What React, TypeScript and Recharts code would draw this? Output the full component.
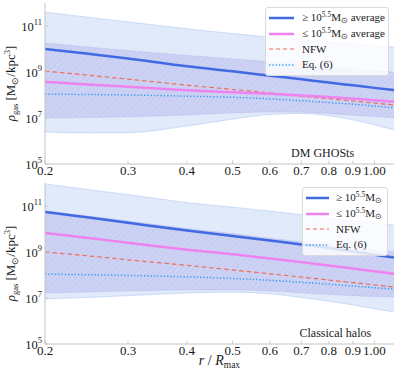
import React from 'react';
import { ComposedChart, Line, Area, XAxis, YAxis, Legend, ReferenceDot, Label } from 'recharts';

// radius r / R_max sample points
const radius = [0.2, 0.25, 0.3, 0.4, 0.5, 0.6, 0.7, 0.8, 0.9, 1.0, 1.1];
const xTicks = [0.2, 0.3, 0.4, 0.5, 0.6, 0.7, 0.8, 0.9, 1.0];
const xTickLabels = ['0.2', '0.3', '0.4', '0.5', '0.6', '0.7', '0.8', '0.9', '1.00'];
const yTicks = [1e5, 1e7, 1e9, 1e11];
const yTickExponents = ['5', '7', '9', '11'];

// log10(rho_gas) — DM GHOSts panel
const ghostHighLog = [10.0, 9.78, 9.59, 9.25, 9.03, 8.84, 8.68, 8.54, 8.42, 8.31, 8.22];
const ghostLowLog = [8.57, 8.45, 8.36, 8.21, 8.12, 8.05, 7.98, 7.91, 7.84, 7.77, 7.71];
const ghostNfwLog = [9.04, 8.85, 8.69, 8.43, 8.24, 8.09, 7.95, 7.84, 7.74, 7.65, 7.57];
const ghostEq6Log = [8.04, 8.02, 8.0, 7.95, 7.9, 7.83, 7.75, 7.67, 7.6, 7.52, 7.45];
const ghostOuterHiLog = [11.6, 11.37, 11.18, 10.88, 10.67, 10.52, 10.4, 10.3, 10.22, 10.15, 10.09];
const ghostOuterLoLog = [6.39, 6.35, 6.36, 6.65, 6.95, 7.15, 7.2, 7.1, 6.92, 6.7, 6.48];
const ghostInnerHiLog = [10.26, 10.08, 9.93, 9.72, 9.58, 9.45, 9.33, 9.22, 9.12, 9.05, 9.0];
const ghostInnerLoLog = [7.0, 7.02, 7.05, 7.13, 7.22, 7.26, 7.25, 7.2, 7.12, 7.06, 7.0];

// log10(rho_gas) — Classical halos panel
const classicHighLog = [10.74, 10.49, 10.27, 9.93, 9.7, 9.5, 9.33, 9.17, 9.02, 8.88, 8.76];
const classicLowLog = [9.83, 9.6, 9.4, 9.1, 8.9, 8.72, 8.56, 8.41, 8.28, 8.16, 8.05];
const classicNfwLog = [9.0, 8.82, 8.66, 8.42, 8.22, 8.05, 7.91, 7.78, 7.67, 7.57, 7.48];
const classicEq6Log = [8.04, 8.01, 7.98, 7.92, 7.85, 7.77, 7.68, 7.6, 7.52, 7.45, 7.39];
const classicOuterHiLog = [11.96, 11.7, 11.5, 11.15, 10.95, 10.78, 10.62, 10.48, 10.36, 10.26, 10.17];
const classicOuterLoLog = [6.96, 7.03, 7.1, 7.22, 7.25, 7.18, 7.02, 6.86, 6.7, 6.53, 6.39];
const classicInnerHiLog = [10.8, 10.55, 10.35, 10.02, 9.8, 9.6, 9.45, 9.32, 9.2, 9.1, 9.02];
const classicInnerLoLog = [7.22, 7.26, 7.3, 7.35, 7.35, 7.3, 7.22, 7.15, 7.1, 7.06, 7.04];

const ghostLabels = ['average', 'average'];
const classicLabels = ['', ''];

const SERIF = "'Liberation Serif', serif";
const TXT = '#1a1a1a';
const SPINE = '#c4c4c4';
const C_HIGH = '#4169E1';
const C_LOW = '#EE82EE';
const C_NFW = '#F26B55';
const C_EQ6 = '#3A9AEF';

const build = (hi: number[], lo: number[], nfw: number[], eq6: number[], oHi: number[], oLo: number[], iHi: number[], iLo: number[]) =>
  radius.map((r, i) => ({
    r,
    high: Math.pow(10, hi[i]),
    low: Math.pow(10, lo[i]),
    nfw: Math.pow(10, nfw[i]),
    eq6: Math.pow(10, eq6[i]),
    outer: [Math.pow(10, oLo[i]), Math.pow(10, oHi[i])],
    inner: [Math.pow(10, iLo[i]), Math.pow(10, iHi[i])],
  }));

const ghostData = build(ghostHighLog, ghostLowLog, ghostNfwLog, ghostEq6Log, ghostOuterHiLog, ghostOuterLoLog, ghostInnerHiLog, ghostInnerLoLog);
const classicData = build(classicHighLog, classicLowLog, classicNfwLog, classicEq6Log, classicOuterHiLog, classicOuterLoLog, classicInnerHiLog, classicInnerLoLog);

const textStyle: React.CSSProperties = { fontFamily: SERIF };

const XTickBottom = (props: any) => {
  const { x, y, payload } = props;
  const idx = xTicks.indexOf(payload.value);
  const label = idx >= 0 ? xTickLabels[idx] : String(payload.value);
  return (
    <g>
      <line x1={x} x2={x} y1={y} y2={y - 3.5} stroke={SPINE} strokeWidth={0.8} />
      <text x={x} y={y + 11} textAnchor="middle" fontSize={13} style={textStyle} fill={TXT}>
        {label}
      </text>
    </g>
  );
};

const XTickTop = (props: any) => {
  const { x, y } = props;
  return <line x1={x} x2={x} y1={y} y2={y + 3.5} stroke={SPINE} strokeWidth={0.8} />;
};

const YTickLeft = (props: any) => {
  const { x, y, payload } = props;
  const idx = yTicks.indexOf(payload.value);
  const exp = idx >= 0 ? yTickExponents[idx] : '';
  return (
    <g>
      <line x1={x} x2={x + 3.5} y1={y} y2={y} stroke={SPINE} strokeWidth={0.8} />
      <text x={x - 3} y={y + 5} textAnchor="end" fontSize={12.5} style={textStyle} fill={TXT}>
        10
        <tspan dy={-6} fontSize={8.5}>{exp}</tspan>
      </text>
    </g>
  );
};

const YTickRight = (props: any) => {
  const { x, y } = props;
  return <line x1={x} x2={x - 3.5} y1={y} y2={y} stroke={SPINE} strokeWidth={0.8} />;
};

const YAxisTitle = (props: any) => {
  const vb = props.viewBox || { x: 0, y: 0, width: 45, height: 161 };
  const cx = 15;
  const cy = vb.y + vb.height / 2;
  return (
    <text
      x={cx}
      y={cy}
      transform={`rotate(-90, ${cx}, ${cy})`}
      textAnchor="middle"
      fontSize={13}
      style={textStyle}
      fill={TXT}
    >
      <tspan fontStyle="italic">ρ</tspan>
      <tspan fontSize={8.5} dy={3}>gas</tspan>
      <tspan dy={-3}> [M</tspan>
      <tspan fontSize={8.5} dy={3}>⊙</tspan>
      <tspan dy={-3}>/kpc</tspan>
      <tspan fontSize={8.5} dy={-5}>3</tspan>
      <tspan dy={5}>]</tspan>
    </text>
  );
};

const XAxisTitle = (props: any) => {
  const vb = props.viewBox || { x: 45, y: 164, width: 349, height: 32 };
  const cx = vb.x + vb.width / 2;
  return (
    <text x={cx} y={vb.y + 21} textAnchor="middle" fontSize={14} style={textStyle} fill={TXT}>
      <tspan fontStyle="italic">r</tspan>
      <tspan> / </tspan>
      <tspan fontStyle="italic">R</tspan>
      <tspan fontSize={9.5} dy={3}>max</tspan>
    </text>
  );
};

const LegendBox = ({ suffix, lineW, gap, pad }: { suffix: string[]; lineW: number; gap: number; pad: number }) => {
  const items = [
    { color: C_HIGH, width: 2.5, dash: undefined as string | undefined, sym: '≥', suffix: suffix[0] },
    { color: C_LOW, width: 2.5, dash: undefined as string | undefined, sym: '≤', suffix: suffix[1] },
    { color: C_NFW, width: 1.2, dash: '4 3', text: 'NFW' },
    { color: C_EQ6, width: 1.5, dash: '1.3 2', text: 'Eq. (6)' },
  ] as any[];
  return (
    <div
      style={{
        background: 'rgba(255,255,255,0.8)',
        border: '1px solid #dadada',
        borderRadius: 3,
        padding: `2px 4px 2px ${pad}px`,
        fontFamily: SERIF,
        fontSize: 11,
        color: TXT,
        boxSizing: 'border-box',
        lineHeight: 1,
      }}
    >
      {items.map((it, i) => (
        <div key={i} style={{ display: 'flex', alignItems: 'center', height: 15.7, whiteSpace: 'nowrap' }}>
          <svg width={lineW} height={6} style={{ display: 'block', flex: 'none' }}>
            <line x1={0} y1={3} x2={lineW} y2={3} stroke={it.color} strokeWidth={it.width} strokeDasharray={it.dash} />
          </svg>
          <span style={{ marginLeft: gap }}>
            {it.text ? (
              it.text
            ) : (
              <>
                {it.sym} 10
                <span style={{ fontSize: 7.5, position: 'relative', top: -4 }}>5.5</span>M
                <span style={{ fontSize: 7.5, position: 'relative', top: 2 }}>⊙</span>
                {it.suffix ? ` ${it.suffix}` : ''}
              </>
            )}
          </span>
        </div>
      ))}
    </div>
  );
};

type PanelProps = {
  data: any[];
  height: number;
  xAxisHeight: number;
  hatchId: string;
  legendSuffix: string[];
  legendStyle: React.CSSProperties;
  legendLineW: number;
  legendGap: number;
  legendPad: number;
  annotation: string;
  annotationX: number;
  annotationY: number;
  showXTitle: boolean;
};

const Panel = (p: PanelProps) => (
  <ComposedChart width={399} height={p.height} data={p.data} margin={{ top: 3, right: 5, bottom: 0, left: 0 }}>
    <defs>
      <pattern id={p.hatchId} patternUnits="userSpaceOnUse" width={6} height={6}>
        <rect x={0} y={0} width={6} height={6} fill="#6A5ACD" fillOpacity={0.17} />
        <path d="M0,6 L6,0 M-1,1 L1,-1 M5,7 L7,5" stroke="#8a7ad6" strokeOpacity={0.22} strokeWidth={0.6} />
      </pattern>
    </defs>
    <XAxis
      dataKey="r"
      type="number"
      scale="log"
      domain={[0.2, 1.1]}
      allowDataOverflow
      ticks={xTicks}
      interval={0}
      height={p.xAxisHeight}
      tickSize={0}
      tickMargin={0}
      tickLine={false}
      axisLine={{ stroke: SPINE, strokeWidth: 1 }}
      tick={<XTickBottom />}
    >
      {p.showXTitle ? <Label content={<XAxisTitle />} /> : null}
    </XAxis>
    <XAxis
      xAxisId="top"
      orientation="top"
      dataKey="r"
      type="number"
      scale="log"
      domain={[0.2, 1.1]}
      allowDataOverflow
      ticks={xTicks}
      interval={0}
      height={0}
      tickSize={0}
      tickMargin={0}
      tickLine={false}
      axisLine={{ stroke: SPINE, strokeWidth: 1 }}
      tick={<XTickTop />}
    />
    <YAxis
      type="number"
      scale="log"
      domain={[1e5, 1e12]}
      allowDataOverflow
      ticks={yTicks}
      interval={0}
      width={45}
      tickSize={0}
      tickMargin={0}
      tickLine={false}
      axisLine={{ stroke: SPINE, strokeWidth: 1 }}
      tick={<YTickLeft />}
    >
      <Label content={<YAxisTitle />} />
    </YAxis>
    <YAxis
      yAxisId="right"
      orientation="right"
      type="number"
      scale="log"
      domain={[1e5, 1e12]}
      allowDataOverflow
      ticks={yTicks}
      interval={0}
      width={0}
      tickSize={0}
      tickMargin={0}
      tickLine={false}
      axisLine={{ stroke: SPINE, strokeWidth: 1 }}
      tick={<YTickRight />}
    />
    <Area
      dataKey="outer"
      type="monotone"
      fill="#6495ED"
      fillOpacity={0.2}
      stroke="#6495ED"
      strokeOpacity={0.25}
      strokeWidth={1}
      isAnimationActive={false}
      dot={false}
      activeDot={false}
    />
    <Area
      dataKey="inner"
      type="monotone"
      fill={`url(#${p.hatchId})`}
      fillOpacity={1}
      stroke="#6A5ACD"
      strokeOpacity={0.12}
      strokeWidth={1}
      isAnimationActive={false}
      dot={false}
      activeDot={false}
    />
    <Line dataKey="eq6" type="monotone" stroke={C_EQ6} strokeWidth={1.5} strokeDasharray="1.3 2" dot={false} isAnimationActive={false} />
    <Line dataKey="nfw" type="monotone" stroke={C_NFW} strokeWidth={1.2} strokeDasharray="4.5 3" dot={false} isAnimationActive={false} />
    <Line dataKey="low" type="monotone" stroke={C_LOW} strokeWidth={2.5} dot={false} isAnimationActive={false} />
    <Line dataKey="high" type="monotone" stroke={C_HIGH} strokeWidth={2.5} dot={false} isAnimationActive={false} />
    <ReferenceDot x={p.annotationX} y={p.annotationY} r={0} fill="none" stroke="none" ifOverflow="visible">
      <Label value={p.annotation} position="center" fontSize={12} style={textStyle} fill={TXT} />
    </ReferenceDot>
    <Legend
      layout="vertical"
      align="center"
      verticalAlign="middle"
      wrapperStyle={p.legendStyle}
      content={() => <LegendBox suffix={p.legendSuffix} lineW={p.legendLineW} gap={p.legendGap} pad={p.legendPad} />}
    />
  </ComposedChart>
);

export default function App() {
  return (
    <div style={{ position: 'absolute', left: 0, top: 0, width: 399, height: 376, background: '#fff', fontFamily: SERIF }}>
      <div style={{ position: 'absolute', left: 0, top: 0 }}>
        <Panel
          data={ghostData}
          height={180}
          xAxisHeight={16}
          hatchId="hatchGhost"
          legendSuffix={ghostLabels}
          legendStyle={{ top: 7, left: 265, width: 124 }}
          legendLineW={25}
          legendGap={8}
          legendPad={3}
          annotation="DM GHOSts"
          annotationX={0.776}
          annotationY={3.0e5}
          showXTitle={false}
        />
      </div>
      <div style={{ position: 'absolute', left: 0, top: 180 }}>
        <Panel
          data={classicData}
          height={196}
          xAxisHeight={32}
          hatchId="hatchClassic"
          legendSuffix={classicLabels}
          legendStyle={{ top: 7, left: 302, width: 86 }}
          legendLineW={23}
          legendGap={7}
          legendPad={3}
          annotation="Classical halos"
          annotationX={0.826}
          annotationY={3.0e5}
          showXTitle={true}
        />
      </div>
    </div>
  );
}
